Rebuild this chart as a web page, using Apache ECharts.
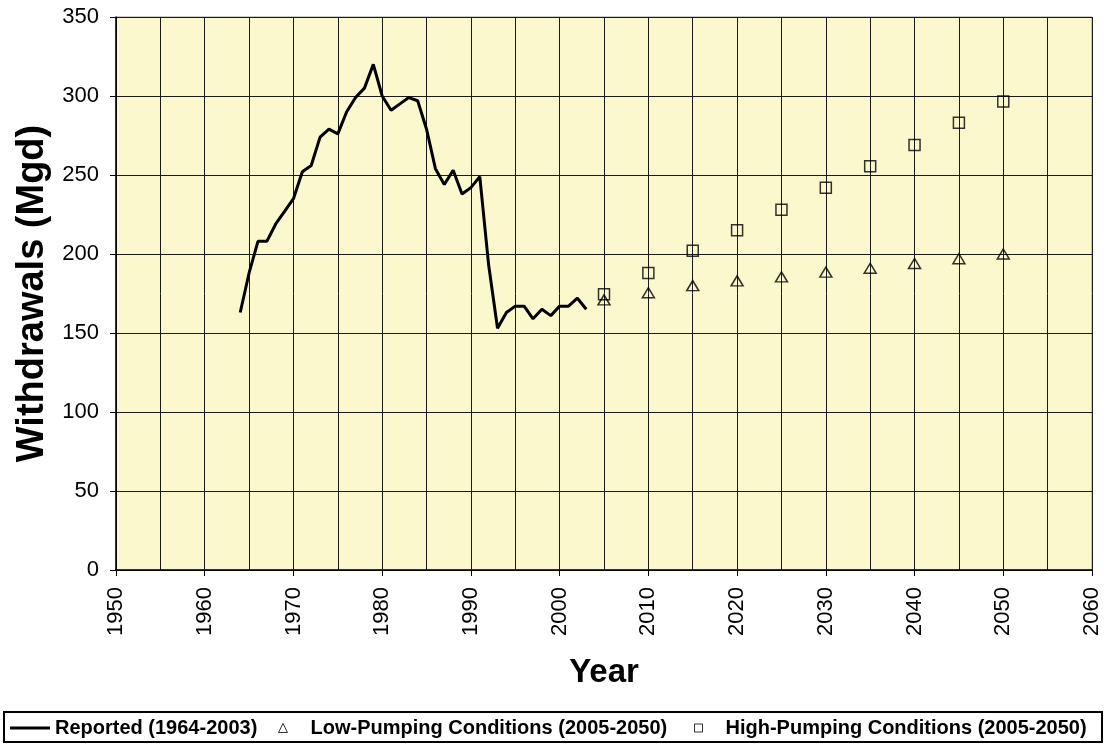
<!DOCTYPE html>
<html>
<head>
<meta charset="utf-8">
<script src="https://cdn.jsdelivr.net/npm/echarts@6/dist/echarts.min.js"></script>
<style>
  html, body { margin: 0; padding: 0; background: #fff; }
  #chart { width: 1106px; height: 748px; }
</style>
</head>
<body>
<div id="chart"></div>
<script>
// reported withdrawals, 1964-2003
var reportedYears = [1964, 1965, 1966, 1967, 1968, 1969, 1970, 1971, 1972, 1973,
    1974, 1975, 1976, 1977, 1978, 1979, 1980, 1981, 1982, 1983,
    1984, 1985, 1986, 1987, 1988, 1989, 1990, 1991, 1992, 1993,
    1994, 1995, 1996, 1997, 1998, 1999, 2000, 2001, 2002, 2003];
var reportedValues = [163, 188, 208, 208, 219, 227, 235, 252, 256, 274,
    279, 276, 290, 299, 305, 320, 300, 291, 295, 299,
    297, 279, 254, 244, 253, 238, 242, 249, 193, 153,
    163, 167, 167, 159, 165, 161, 167, 167, 172, 165];

// projections
var projYears = [2005, 2010, 2015, 2020, 2025, 2030, 2035, 2040, 2045, 2050];
var lowValues = [171, 175.5, 180, 183, 185.5, 188.5, 191, 194, 197, 200];
var highValues = [174.5, 188, 202, 215, 228, 242, 255.5, 269, 283, 296.5];

var xTicks = [1950, 1960, 1970, 1980, 1990, 2000, 2010, 2020, 2030, 2040, 2050, 2060];

function pairs(xs, ys) {
    return xs.map(function (x, i) { return [x, ys[i]]; });
}

var font = 'Liberation Sans, Arial, sans-serif';
var gridColor = '#1a1a1a';

var chart = echarts.init(document.getElementById('chart'));

var legendText = { fontFamily: font, fontSize: 20, fontWeight: 'bold', color: '#000' };

var option = {
    animation: false,
    grid: {
        left: 116, right: 14, top: 17, bottom: 178,
        show: true,
        backgroundColor: '#FBF8CE',
        borderColor: '#999',
        borderWidth: 1
    },
    xAxis: {
        type: 'value',
        min: 1950, max: 2060, interval: 10,
        name: 'Year',
        nameLocation: 'middle',
        nameGap: 86,
        nameTextStyle: { fontFamily: font, fontSize: 33, fontWeight: 'bold', color: '#000' },
        axisLine: { show: true, lineStyle: { color: '#000', width: 1.5 } },
        axisTick: { show: true, length: 6, lineStyle: { color: '#000' } },
        axisLabel: {
            rotate: 90, margin: 17,
            fontFamily: font, fontSize: 22, color: '#000',
            formatter: function (v) { return xTicks.indexOf(v) >= 0 ? String(v) : ''; }
        },
        splitLine: { show: true, lineStyle: { color: gridColor, width: 1 } },
        minorTick: { show: false, splitNumber: 2 },
        minorSplitLine: { show: true, lineStyle: { color: gridColor, width: 1 } }
    },
    yAxis: {
        type: 'value',
        min: 0, max: 350, interval: 50,
        name: 'Withdrawals (Mgd)',
        nameLocation: 'middle',
        nameGap: 62,
        nameTextStyle: { fontFamily: font, fontSize: 38, fontWeight: 'bold', color: '#000' },
        axisLine: { show: true, lineStyle: { color: '#000', width: 1.5 } },
        axisTick: { show: true, length: 6, lineStyle: { color: '#000' } },
        axisLabel: { margin: 17, fontFamily: font, fontSize: 22, color: '#000' },
        splitLine: { show: true, lineStyle: { color: gridColor, width: 1 } }
    },
    legend: [
        {
            left: 5, top: 713,
            itemWidth: 40, itemHeight: 3,
            textStyle: legendText,
            data: [{ name: 'Reported (1964-2003)', icon: 'rect',
                itemStyle: { color: '#000', borderWidth: 0 } }]
        },
        {
            left: 273, top: 713,
            itemWidth: 9, itemHeight: 9,
            textStyle: Object.assign({ padding: [0, 0, 0, 18] }, legendText),
            data: [{ name: 'Low-Pumping Conditions (2005-2050)', icon: 'triangle',
                itemStyle: { color: 'transparent', borderColor: '#000', borderWidth: 1 } }]
        },
        {
            left: 689, top: 713,
            itemWidth: 8, itemHeight: 8,
            textStyle: Object.assign({ padding: [0, 0, 0, 18] }, legendText),
            data: [{ name: 'High-Pumping Conditions (2005-2050)', icon: 'rect',
                itemStyle: { color: 'transparent', borderColor: '#000', borderWidth: 1 } }]
        }
    ],
    graphic: [{
        type: 'rect',
        shape: { x: 4, y: 712, width: 1098, height: 30 },
        style: { fill: 'none', stroke: '#000', lineWidth: 2 },
        silent: true
    }],
    series: [
        {
            name: 'Reported (1964-2003)',
            type: 'line',
            data: pairs(reportedYears, reportedValues),
            showSymbol: false,
            symbol: 'none',
            lineStyle: { color: '#000', width: 3 },
            itemStyle: { color: '#000' }
        },
        {
            name: 'Low-Pumping Conditions (2005-2050)',
            type: 'scatter',
            data: pairs(projYears, lowValues),
            symbol: 'triangle',
            symbolSize: [12, 10],
            itemStyle: { color: 'transparent', borderColor: '#000', borderWidth: 1.5 }
        },
        {
            name: 'High-Pumping Conditions (2005-2050)',
            type: 'scatter',
            data: pairs(projYears, highValues),
            symbol: 'rect',
            symbolSize: 11,
            itemStyle: { color: 'transparent', borderColor: '#000', borderWidth: 1.5 }
        }
    ]
};

chart.setOption(option);
</script>
</body>
</html>
